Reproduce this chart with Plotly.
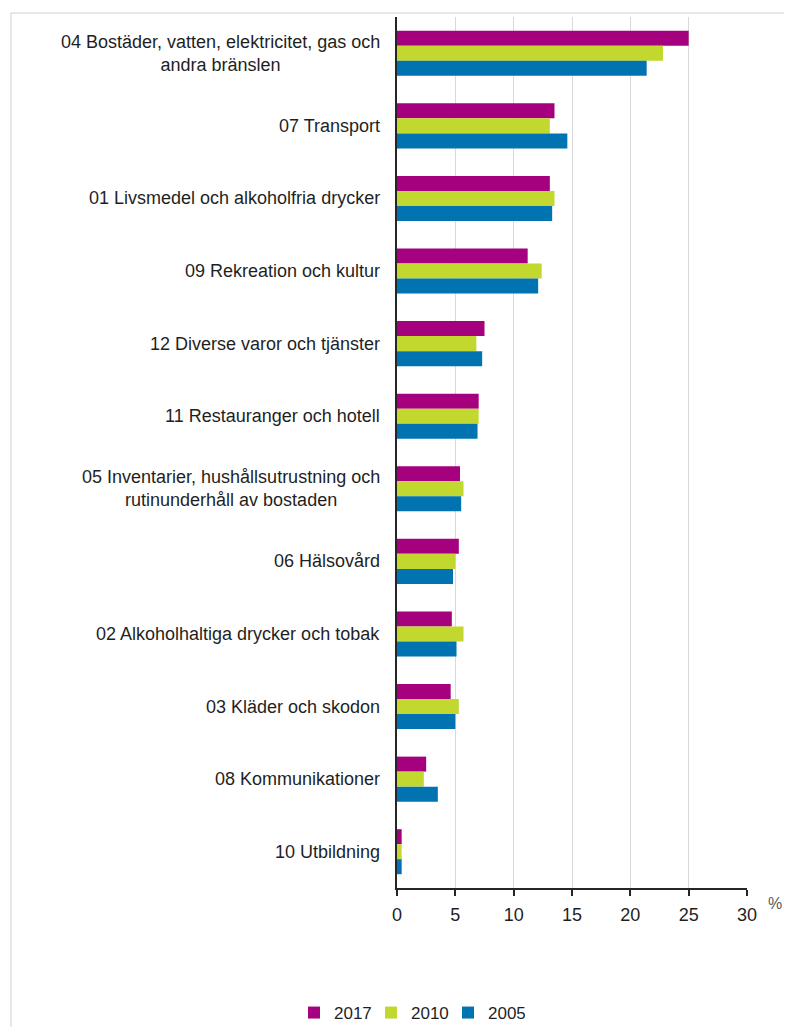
import plotly.graph_objects as go

categories = [
    "04 Bostäder, vatten, elektricitet, gas och<br>andra bränslen",
    "07 Transport",
    "01 Livsmedel och alkoholfria drycker",
    "09 Rekreation och kultur",
    "12 Diverse varor och tjänster",
    "11 Restauranger och hotell",
    "05 Inventarier, hushållsutrustning och<br>rutinunderhåll av bostaden",
    "06 Hälsovård",
    "02 Alkoholhaltiga drycker och tobak",
    "03 Kläder och skodon",
    "08 Kommunikationer",
    "10 Utbildning",
]
v2017 = [25.0, 13.5, 13.1, 11.2, 7.5, 7.0, 5.4, 5.3, 4.7, 4.6, 2.5, 0.4]
v2010 = [22.8, 13.1, 13.5, 12.4, 6.8, 7.0, 5.7, 5.0, 5.7, 5.3, 2.3, 0.4]
v2005 = [21.4, 14.6, 13.3, 12.1, 7.3, 6.9, 5.5, 4.8, 5.1, 5.0, 3.5, 0.4]
series = [("2017", v2017, "#a5007e"), ("2010", v2010, "#c2d82f"), ("2005", v2005, "#0073b0")]
x_ticks = [0, 5, 10, 15, 20, 25, 30]

FONT = "Liberation Sans, Arial"
fig = go.Figure()
for name, vals, col in series:
    fig.add_trace(go.Bar(
        y=list(range(len(categories))), x=vals, name=name, orientation="h",
        marker=dict(color=col, line=dict(width=0)),
    ))

# page has an 8px body margin; work in page coords and convert
OFF = 8
W, H = 792 - 2 * OFF, 1035 - 2 * OFF
PL, PR, PT, PB = 397, 747, 17, 888  # plot area in page coords
L, T = PL - OFF, PT - OFF
R = W - (PR - OFF)
B = H - (PB - OFF)
pw, ph = PR - PL, PB - PT


def px(xpage):
    return (xpage - PL) / pw


def py(ypage):
    return (PB - ypage) / ph


annotations = []
for i, c in enumerate(categories):
    annotations.append(dict(
        x=0, xref="paper", y=i, yref="y", text=c, showarrow=False,
        xanchor="right", yanchor="middle", align="center", xshift=-15,
        font=dict(family=FONT, size=18, color="#1f1f1f"),
    ))
annotations.append(dict(
    x=px(784), xref="paper", y=py(903), yref="paper", text="%",
    showarrow=False, xanchor="right", yanchor="middle",
    font=dict(family=FONT, size=16, color="#595959"),
))

fig.update_layout(
    width=W, height=H,
    margin=dict(l=L, r=R, t=T, b=B, autoexpand=False),
    paper_bgcolor="white", plot_bgcolor="white",
    barmode="group", bargap=0.38, bargroupgap=0,
    showlegend=True,
    legend=dict(
        orientation="h", x=px(294), xanchor="left",
        y=py(1013), yanchor="middle",
        font=dict(family=FONT, size=17, color="#1f1f1f"),
        itemwidth=30, entrywidth=32, traceorder="normal", itemclick=False,
    ),
    xaxis=dict(
        range=[0, 30], tickvals=x_ticks, ticktext=[str(t) for t in x_ticks],
        showgrid=True, gridcolor="#d9d9d9", gridwidth=1,
        showline=True, linecolor="#262626", linewidth=1.5,
        ticks="outside", ticklen=6, tickcolor="#262626", tickwidth=1.5,
        ticklabelstandoff=4,
        tickfont=dict(family=FONT, size=18, color="#1f1f1f"),
        zeroline=False, fixedrange=True,
    ),
    yaxis=dict(
        range=[len(categories) - 0.5, -0.5],
        showticklabels=False, ticks="", showgrid=False,
        showline=True, linecolor="#262626", linewidth=1.5,
        zeroline=False, fixedrange=True,
    ),
    annotations=annotations,
    shapes=[dict(
        type="rect", xref="paper", yref="paper",
        x0=px(11), x1=px(820),
        y0=py(1060), y1=py(13),
        line=dict(color="#d0d0d0", width=1), fillcolor="rgba(0,0,0,0)", layer="below",
    )],
)

fig.write_html("out.html")
